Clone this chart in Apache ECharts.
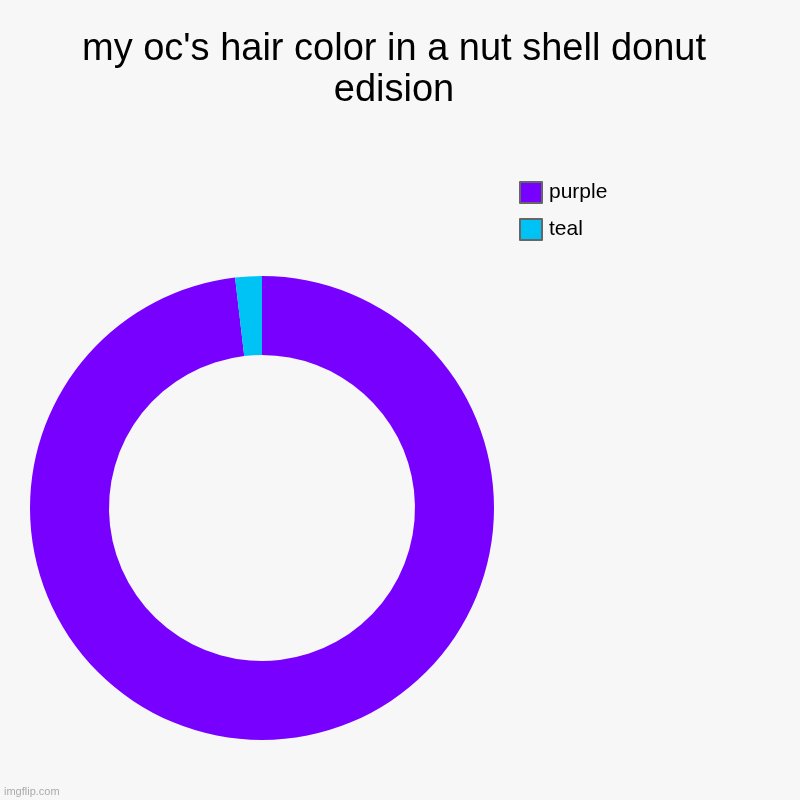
<!DOCTYPE html>
<html>
<head>
<meta charset="utf-8">
<script src="https://cdn.jsdelivr.net/npm/echarts@6/dist/echarts.min.js"></script>
<style>
html,body{margin:0;padding:0;background:#f7f7f7;}
#c{width:800px;height:800px;}
</style>
</head>
<body>
<div id="c"></div>
<script>
const categories = ['purple', 'teal'];
const values = [53, 1];
const colors = ['#7800ff', '#00c3f5'];

const chart = echarts.init(document.getElementById('c'));
chart.setOption({
  backgroundColor: '#f7f7f7',
  animation: false,
  title: [{
    text: "my oc's hair color in a nut shell donut\nedision",
    left: 389,
    textAlign: 'center',
    top: 24,
    textStyle: {fontFamily: 'Liberation Sans, Arial, sans-serif', fontSize: 38, fontWeight: 'normal', color: '#000', lineHeight: 41}
  }, {
    text: 'imgflip.com',
    left: 4,
    bottom: 3,
    padding: 0,
    textStyle: {fontFamily: 'Liberation Sans, Arial, sans-serif', fontSize: 11, fontWeight: 'normal', color: '#aaaaaa'}
  }],
  legend: {
    orient: 'vertical',
    left: 519,
    top: 181,
    padding: 0,
    itemWidth: 22,
    itemHeight: 21,
    itemGap: 14,
    icon: 'rect',
    itemStyle: {borderColor: '#666666', borderWidth: 2},
    textStyle: {fontFamily: 'Liberation Sans, Arial, sans-serif', fontSize: 21, color: '#000', padding: [0, 0, 0, 2]},
    data: categories
  },
  series: [{
    type: 'pie',
    center: [262, 508],
    radius: [153, 232],
    startAngle: 90,
    clockwise: true,
    label: {show: false},
    labelLine: {show: false},
    emphasis: {disabled: true},
    itemStyle: {borderWidth: 0},
    data: categories.map((c, i) => ({name: c, value: values[i], itemStyle: {color: colors[i]}}))
  }]
});
</script>
</body>
</html>
